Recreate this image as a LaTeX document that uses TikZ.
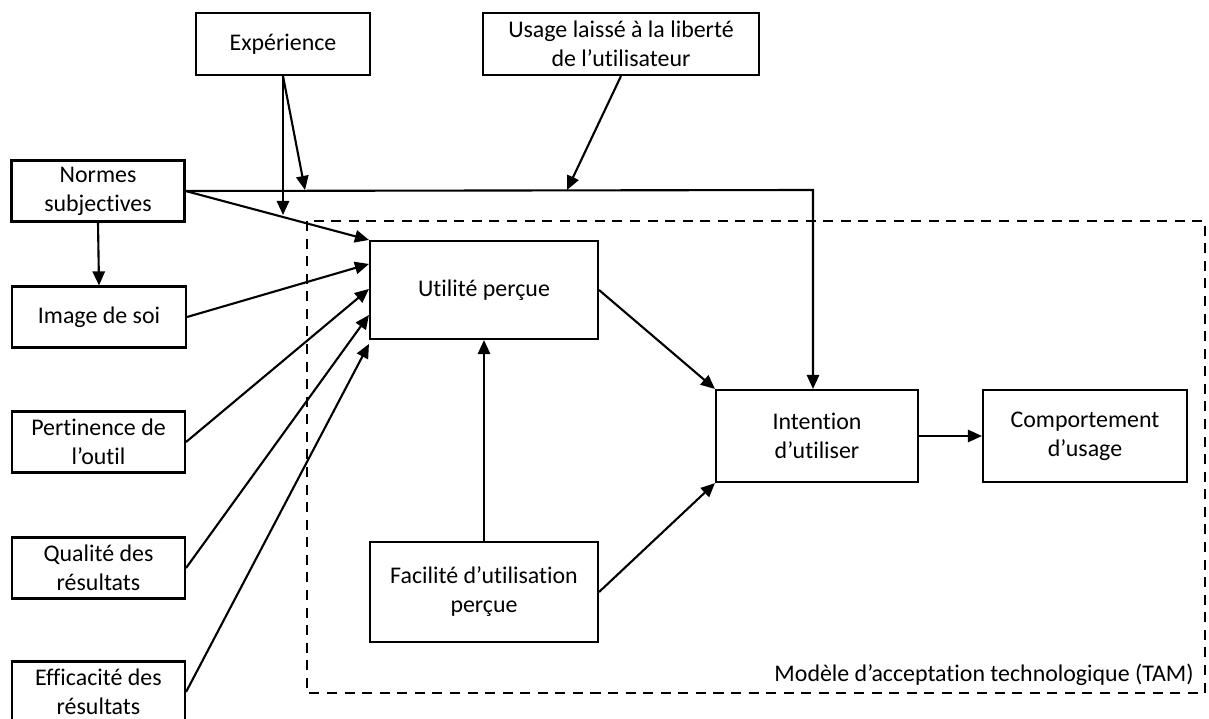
\documentclass[tikz,border=0pt]{standalone}
\usepackage{fontspec}
\setmainfont[Ligatures=NoCommon]{Carlito}
\usetikzlibrary{arrows.meta,calc}

\tikzset{
  box/.style 2 args={draw, line width=1.2pt, align=center, inner xsep=2pt, inner ysep=0pt,
    minimum width=#1cm, minimum height=#2cm},
  link/.style={->, line width=1.2pt}
}

\begin{document}
\begin{tikzpicture}[x=0.02cm,y=-0.02cm,line join=miter,>={Triangle[length=8pt,width=7pt]},
    font=\fontsize{13.6}{16.5}\selectfont]

    \useasboundingbox (0,0) rectangle (1209,719);

    % TAM frame
    \draw[line width=1.2pt, dash pattern=on 5.7pt off 4.3pt] (307,221) rectangle (1205,693);
    \node[anchor=base east, inner sep=0pt] (tam) at (1194,681) {Modèle d’acceptation technologique (TAM)};

    % Moderators
    \node[box={3.48}{1.24}] (exp) at (283,44) {Expérience};
    \node[box={5.52}{1.24}] (usage) at (621,44) {Usage laissé à la liberté\\de l’utilisateur};

    % External variables
    \node[box={3.46}{1.22}] (normes) at (98,191) {Normes\\subjectives};
    \node[box={3.48}{1.22}] (image) at (99,317) {Image de soi};
    \node[box={3.46}{1.22}] (pert) at (98.5,442) {Pertinence de\\l’outil};
    \node[box={3.46}{1.22}] (qual) at (98.5,568) {Qualité des\\résultats};
    \node[box={3.46}{1.22}] (eff) at (98.5,692) {Efficacité des\\résultats};

    % TAM core
    \node[box={4.56}{1.96}] (util) at (484,290) {Utilité perçue};
    \node[box={4.56}{2.0}] (fac) at (484,592) {Facilité d’utilisation\\perçue};
    \node[box={4.04}{1.84}] (intent) at (817,436) {Intention\\d’utiliser};
    \node[box={4.08}{1.84}] (comp) at (1085,436) {Comportement\\d’usage};

    % Junction points
    \coordinate (bend) at (813,190);
    \coordinate (expA) at (283,215);
    \coordinate (expB) at (305,190);
    \coordinate (usA) at (567,190);

    % Normes subjectives
    \draw[link] (normes.east) -- (bend) -- (bend |- intent.north);
    \draw[link] (normes.east) -- (util.north west);
    \draw[link] (normes.south) -- (image.north);

    % Moderating arrows
    \draw[link] (exp.south) -- (expA);
    \draw[link] (exp.south) -- (expB);
    \draw[link] (usage.south) -- (usA);

    % Determinants of perceived usefulness
    \draw[link] (image.east) -- ($(util.north west)+(0,24)$);
    \draw[link] (pert.east) -- ($(util.north west)+(0,49)$);
    \draw[link] (qual.east) -- ($(util.north west)+(0,75)$);
    \draw[link] (eff.east) -- ($(util.north west)+(0,104)$);

    % TAM relations
    \draw[link] (fac.north) -- (util.south);
    \draw[link] (util.east) -- (intent.north west);
    \draw[link] (fac.east) -- (intent.south west);
    \draw[link] (intent.east) -- (comp.west);

\end{tikzpicture}
\end{document}
